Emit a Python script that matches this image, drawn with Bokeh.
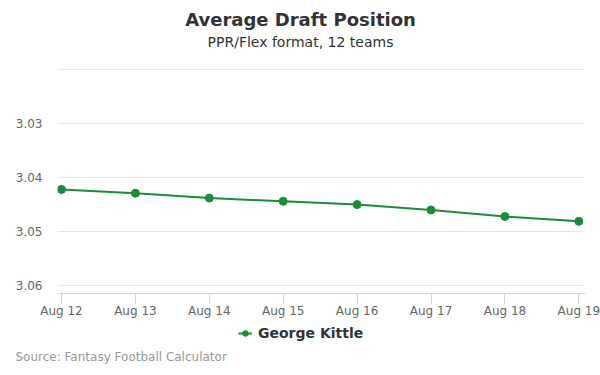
from bokeh.plotting import figure
from bokeh.layouts import column
from bokeh.models import Range1d, FixedTicker, Legend, LegendItem, Title
from bokeh.core.properties import value
from bokeh.embed import file_html
from bokeh.resources import INLINE

dates = ["Aug 12", "Aug 13", "Aug 14", "Aug 15", "Aug 16", "Aug 17", "Aug 18", "Aug 19"]
adp = [3.0422, 3.0429, 3.0438, 3.0444, 3.0450, 3.0460, 3.0472, 3.0481]
y_ticks = [3.02, 3.03, 3.04, 3.05, 3.06]
y_labels = [3.03, 3.04, 3.05, 3.06]
player = "George Kittle"
title = "Average Draft Position"
subtitle = "PPR/Flex format, 12 teams"
source = "Source: Fantasy Football Calculator"

FONT = "DejaVu Sans"
GREEN = "#1b8c3b"
xs = list(range(len(dates)))

# frames of the stacked figures are aligned to the main chart: x 57..585 px
FRAME_L, FRAME_R = 57, 585


def blank(h, bottom_border=0):
    f = figure(width=600, height=h, output_backend="svg", toolbar_location=None,
               x_range=Range1d(FRAME_L, FRAME_R), y_range=Range1d(h, 0),
               min_border=0, min_border_left=0, min_border_right=0,
               min_border_top=0, min_border_bottom=bottom_border)
    f.axis.visible = False
    f.grid.visible = False
    f.outline_line_color = None
    f.border_fill_color = "white"
    return f


# header
top = blank(68)
top.text(x=[300], y=[19], text=[title], text_align="center", text_baseline="middle",
         text_font=value(FONT), text_font_size="18px", text_font_style="bold",
         text_color="#333333")
top.text(x=[300], y=[41], text=[subtitle], text_align="center", text_baseline="middle",
         text_font=value(FONT), text_font_size="14px", text_color="#333333")

# main chart
p = figure(width=600, height=255, output_backend="svg", toolbar_location=None,
           x_range=Range1d(-0.054, 7.09), y_range=Range1d(3.06147, 3.0198),
           min_border_left=FRAME_L, min_border_right=600 - FRAME_R,
           min_border_top=0, min_border_bottom=30)
p.outline_line_color = None
p.background_fill_color = "white"
p.border_fill_color = "white"

p.xgrid.grid_line_color = None
p.ygrid.grid_line_color = "#e6e6e6"
p.ygrid.ticker = FixedTicker(ticks=y_ticks)

p.xaxis.ticker = FixedTicker(ticks=xs)
p.xaxis.major_label_overrides = {i: d for i, d in enumerate(dates)}
p.xaxis.axis_line_color = "#ccd6eb"
p.xaxis.major_tick_line_color = "#ccd6eb"
p.xaxis.major_tick_out = 10
p.xaxis.major_tick_in = 0
p.xaxis.minor_tick_line_color = None
p.xaxis.major_label_text_color = "#666666"
p.xaxis.major_label_text_font = FONT
p.xaxis.major_label_text_font_size = "12px"
p.xaxis.major_label_standoff = 0

p.yaxis.ticker = FixedTicker(ticks=y_labels)
p.yaxis.axis_line_color = None
p.yaxis.major_tick_line_color = None
p.yaxis.minor_tick_line_color = None
p.yaxis.major_tick_out = 0
p.yaxis.major_tick_in = 0
p.yaxis.major_label_text_color = "#666666"
p.yaxis.major_label_text_font = FONT
p.yaxis.major_label_text_font_size = "12px"
p.yaxis.major_label_standoff = 15

p.line(xs, adp, line_color=GREEN, line_width=2)
p.scatter(xs, adp, size=8, fill_color=GREEN, line_color=GREEN)

# footer: legend + source
bot = blank(52, bottom_border=30)
key_line = bot.line(x=[-100, -90], y=[-100, -100], line_color=GREEN, line_width=2)
key_pt = bot.scatter(x=[-100], y=[-100], size=8, fill_color=GREEN, line_color=GREEN)
legend = Legend(items=[LegendItem(label=player, renderers=[key_line, key_pt])],
                orientation="horizontal", location=(238 - FRAME_L, 4),
                label_text_font=FONT, label_text_font_size="14px",
                label_text_font_style="bold", label_text_color="#333333",
                border_line_color=None, background_fill_alpha=0,
                glyph_width=14, glyph_height=16, label_standoff=6,
                padding=0, margin=0, spacing=0)
bot.add_layout(legend)
bot.add_layout(Title(text=source, align="left", offset=15 - FRAME_L, standoff=4,
                     text_font=FONT, text_font_size="12px", text_font_style="normal",
                     text_color="#999999"), "below")

layout = column(top, p, bot, spacing=0)
open("out.html", "w").write(file_html(layout, INLINE))
